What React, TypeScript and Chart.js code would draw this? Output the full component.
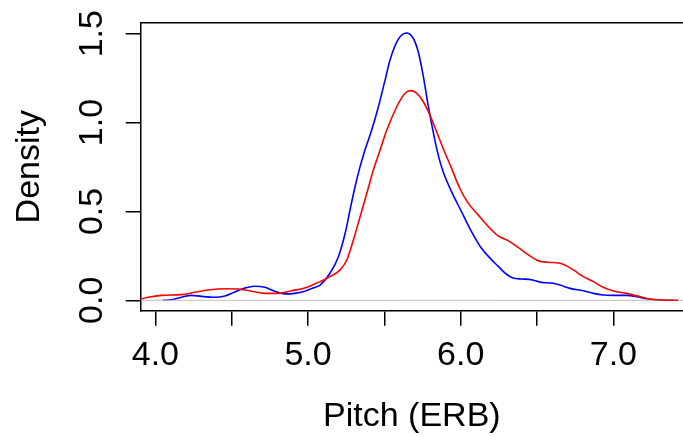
import React, { useEffect, useRef } from "react";
import { Chart, registerables } from "chart.js";

Chart.register(...registerables);

// Group 1 (blue) density estimate
const blueX = [4.048, 4.105, 4.170, 4.236, 4.301, 4.389, 4.455, 4.520, 4.586, 4.651, 4.717, 4.782, 4.848, 4.913, 4.979, 5.033, 5.079, 5.144, 5.199, 5.243, 5.275, 5.308, 5.341, 5.373, 5.417, 5.461, 5.505, 5.537, 5.590, 5.644, 5.688, 5.721, 5.753, 5.786, 5.819, 5.852, 5.884, 5.939, 6.004, 6.070, 6.135, 6.201, 6.245, 6.289, 6.343, 6.398, 6.463, 6.528, 6.594, 6.651, 6.716, 6.803, 6.869, 6.934, 7.000, 7.087, 7.153, 7.219, 7.306, 7.388];
const blueY = [0.000, 0.003, 0.017, 0.028, 0.022, 0.017, 0.024, 0.047, 0.069, 0.079, 0.073, 0.051, 0.036, 0.039, 0.051, 0.069, 0.086, 0.152, 0.245, 0.377, 0.508, 0.639, 0.752, 0.846, 0.958, 1.089, 1.240, 1.352, 1.467, 1.504, 1.476, 1.401, 1.270, 1.101, 0.951, 0.820, 0.726, 0.613, 0.501, 0.388, 0.294, 0.229, 0.192, 0.154, 0.125, 0.120, 0.116, 0.101, 0.097, 0.086, 0.067, 0.054, 0.039, 0.030, 0.028, 0.028, 0.020, 0.009, 0.002, 0.000];

// Group 2 (red) density estimate
const redX = [3.886, 3.952, 4.039, 4.170, 4.258, 4.345, 4.455, 4.542, 4.629, 4.717, 4.804, 4.891, 4.979, 5.033, 5.079, 5.144, 5.210, 5.254, 5.297, 5.341, 5.385, 5.428, 5.472, 5.516, 5.581, 5.610, 5.636, 5.670, 5.709, 5.753, 5.797, 5.841, 5.884, 5.939, 5.993, 6.048, 6.113, 6.179, 6.245, 6.310, 6.376, 6.441, 6.507, 6.572, 6.651, 6.738, 6.803, 6.869, 6.934, 7.000, 7.087, 7.175, 7.240, 7.306, 7.380, 7.424];
const redY = [0.003, 0.017, 0.028, 0.032, 0.045, 0.058, 0.065, 0.064, 0.051, 0.039, 0.039, 0.054, 0.069, 0.088, 0.105, 0.133, 0.171, 0.227, 0.339, 0.470, 0.602, 0.733, 0.846, 0.958, 1.089, 1.135, 1.165, 1.180, 1.167, 1.120, 1.045, 0.951, 0.857, 0.745, 0.632, 0.548, 0.482, 0.417, 0.363, 0.336, 0.298, 0.257, 0.223, 0.214, 0.208, 0.171, 0.133, 0.105, 0.073, 0.052, 0.039, 0.020, 0.007, 0.002, 0.000, 0.000];

// Axis ranges and ticks
const xMin = 3.904;
const xMax = 7.456;
const yMin = -0.0585;
const yMax = 1.562;
const xStep = 0.5;
const yStep = 0.5;
const xTitle = "Pitch (ERB)";
const yTitle = "Density";

const FONT = "'Liberation Sans', Arial, Helvetica, sans-serif";
const FONT_SIZE = 34;

function pts(xs: number[], ys: number[]) {
  return xs.map((x, i) => ({ x, y: ys[i] }));
}

const boxAndLabels = {
  id: "boxAndLabels",
  afterDraw(chart: any) {
    const { ctx, chartArea } = chart;
    const ys = chart.scales.y;
    ctx.save();
    // top border of the box
    ctx.strokeStyle = "#000";
    ctx.lineWidth = 1.5;
    ctx.beginPath();
    ctx.moveTo(chartArea.left - 0.75, chartArea.top);
    ctx.lineTo(chartArea.right + 2, chartArea.top);
    ctx.stroke();
    // rotated y tick labels
    ctx.fillStyle = "#000";
    ctx.font = `${FONT_SIZE}px ${FONT}`;
    ctx.textAlign = "center";
    ctx.textBaseline = "alphabetic";
    ys.ticks.forEach((t: any) => {
      const py = ys.getPixelForValue(t.value);
      ctx.save();
      ctx.translate(101.5, py);
      ctx.rotate(-Math.PI / 2);
      ctx.fillText(t.value.toFixed(1), 0, 0);
      ctx.restore();
    });
    ctx.restore();
  },
};

export default function App() {
  const ref = useRef<HTMLCanvasElement | null>(null);
  useEffect(() => {
    if (!ref.current) return;
    const chart = new Chart(ref.current, {
      type: "line",
      data: {
        datasets: [
          {
            label: "red",
            data: pts(redX, redY),
            borderColor: "#FF0000",
            borderWidth: 1.6,
            pointRadius: 0,
            cubicInterpolationMode: "monotone",
            fill: false,
            order: 0,
          },
          {
            label: "zero",
            data: [
              { x: xMin, y: 0 },
              { x: xMax, y: 0 },
            ],
            borderColor: "#BEBEBE",
            borderWidth: 1,
            pointRadius: 0,
            fill: false,
            order: 1,
          },
          {
            label: "blue",
            data: pts(blueX, blueY),
            borderColor: "#0000FF",
            borderWidth: 1.6,
            pointRadius: 0,
            cubicInterpolationMode: "monotone",
            fill: false,
            order: 2,
          },
        ],
      },
      options: {
        animation: false,
        responsive: true,
        maintainAspectRatio: false,
        devicePixelRatio: 1,
        layout: { padding: { top: 22.7, left: 0, right: 0, bottom: 0 } },
        plugins: {
          legend: { display: false },
          tooltip: { enabled: false },
        },
        scales: {
          x: {
            type: "linear",
            min: xMin,
            max: xMax,
            afterFit: (s: any) => {
              s.height = 126.3;
            },
            ticks: {
              stepSize: xStep,
              includeBounds: false,
              autoSkip: false,
              maxRotation: 0,
              minRotation: 0,
              padding: 10,
              color: "#000",
              font: { family: FONT, size: FONT_SIZE, lineHeight: 1.2 },
              callback: (v: any) => (Math.abs(v - Math.round(v)) < 1e-9 ? Number(v).toFixed(1) : ""),
            },
            grid: {
              drawOnChartArea: false,
              drawTicks: true,
              tickLength: 15,
              color: "#000",
              lineWidth: 1.5,
            },
            border: { display: true, color: "#000", width: 1.5 },
            title: {
              display: true,
              text: xTitle,
              color: "#000",
              font: { family: FONT, size: FONT_SIZE, lineHeight: 1.2 },
              padding: { top: 0, bottom: 0 },
            },
          },
          y: {
            type: "linear",
            min: yMin,
            max: yMax,
            afterFit: (s: any) => {
              s.width = 140.7;
            },
            ticks: {
              stepSize: yStep,
              includeBounds: false,
              display: false,
            },
            grid: {
              drawOnChartArea: false,
              drawTicks: true,
              tickLength: 15,
              color: "#000",
              lineWidth: 1.5,
            },
            border: { display: true, color: "#000", width: 1.5 },
            title: {
              display: true,
              text: yTitle,
              color: "#000",
              font: { family: FONT, size: FONT_SIZE, lineHeight: 1.2 },
              padding: { top: 9, bottom: 0 },
            },
          },
        },
      },
      plugins: [boxAndLabels],
    } as any);
    return () => chart.destroy();
  }, []);
  return (
    <div style={{ position: "absolute", left: 0, top: 0, width: 683, height: 437 }}>
      <canvas ref={ref} />
    </div>
  );
}
